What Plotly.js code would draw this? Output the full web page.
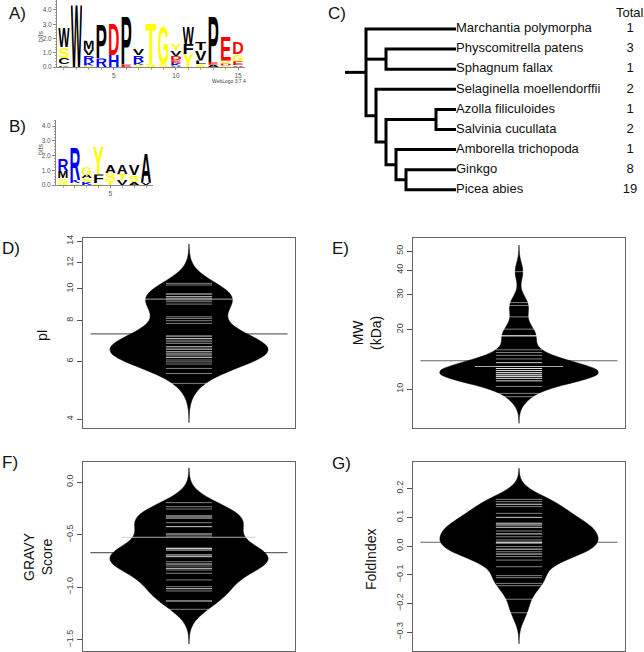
<!DOCTYPE html>
<html>
<head>
<meta charset="utf-8">
<script src="https://cdn.plot.ly/plotly-3.0.1.min.js"></script>
<style>
  html, body { margin: 0; padding: 0; background: #fff; }
  #chart { width: 644px; height: 652px; }
</style>
</head>
<body>
<div id="chart"></div>
<script>
// ---------- data ----------
// Logo A: letters of each position, bottom to top, with heights in bits
const logoALetters = ['KGCSW', 'W', 'SKRVM', 'RP', 'HD', 'EP', 'SKRV', 'ST', 'SG', 'AKEDVY', 'YFW', 'SLVT', 'AEP', 'SDGE', 'AEGD'];
const logoAHeights = [
  [0.06, 0.12, 0.46, 0.75, 1.4],
  [4.5],
  [0.1, 0.25, 0.48, 0.42, 0.6],
  [0.6, 2.45],
  [0.85, 2.25],
  [0.2, 3.5],
  [0.15, 0.2, 0.5, 0.45],
  [0.22, 2.85],
  [0.2, 2.7],
  [0.1, 0.18, 0.2, 0.3, 0.4, 0.45],
  [0.9, 0.72, 1.2],
  [0.2, 0.25, 0.75, 0.55],
  [0.15, 0.2, 3.25],
  [0.1, 0.15, 0.2, 1.8],
  [0.12, 0.28, 0.5, 0.85]
];
// Logo B
const logoBLetters = ['GSMR', 'SKR', 'KSAG', 'SFY', 'TSA', 'VTA', 'ASV', 'VA'];
const logoBHeights = [
  [0.15, 0.3, 0.5, 0.85],
  [0.12, 0.22, 2.25],
  [0.2, 0.25, 0.25, 0.5],
  [0.12, 0.6, 1.85],
  [0.3, 0.5, 0.55],
  [0.35, 0.4, 0.6],
  [0.2, 0.45, 0.7],
  [0.15, 2.1]
];

// Tree C
const taxa = ['Marchantia polymorpha', 'Physcomitrella patens', 'Sphagnum fallax',
  'Selaginella moellendorffii', 'Azolla filiculoides', 'Salvinia cucullata',
  'Amborella trichopoda', 'Ginkgo', 'Picea abies'];
const totals = [1, 3, 1, 2, 1, 2, 1, 8, 19];
const nodeNames = ['root', 'moss', 'vasc', 'fernSeed', 'ferns', 'seed', 'gymno'];
const nodeDepth = [0, 2, 1, 2, 7, 3, 4];
const nodeChildren = [['L0', 'moss', 'vasc'], ['L1', 'L2'], ['L3', 'fernSeed'], ['ferns', 'seed'],
  ['L4', 'L5'], ['L6', 'gymno'], ['L7', 'L8']];
const tipDepth = 9;
const rootStub = 2.1;

// Bean plots D-G
const pIValues = [10.39, 10.27, 9.64, 9.64, 9.46, 9.46, 9.35, 9.24, 9.13, 8.98, 8.21, 8.12, 7.99, 7.84,
  7.17, 7.17, 7.05, 7.05, 6.97, 6.89, 6.81, 6.65, 6.65, 6.54, 6.54, 6.42, 6.42, 6.32, 6.32, 6.24,
  6.17, 6.17, 6.06, 5.98, 5.89, 5.71, 5.51, 5.14];
const pIOverall = 7.28, pIBeanLine = 9.3;

const mwValues = [39.3, 27.4, 26.5, 23.2, 20.1, 18.6, 18.6, 18.6, 15.8, 15.3, 14.8, 14.2, 13.6, 13.6,
  13.0, 13.0, 12.7, 12.7, 12.7, 12.4, 12.4, 12.4, 12.1, 12.1, 12.1, 11.8, 11.8, 11.8, 11.55, 11.55,
  11.55, 11.3, 11.3, 11.0, 11.0, 10.3, 9.5, 9.14];
const mwOverall = 13.9, mwBeanLine = 13.0;

const gravyValues = [-0.196, -0.234, -0.256, -0.323, -0.323, -0.342, -0.342, -0.386, -0.424, -0.424,
  -0.494, -0.494, -0.513, -0.63, -0.63, -0.63, -0.646, -0.646, -0.693, -0.693, -0.709, -0.709,
  -0.757, -0.779, -0.779, -0.798, -0.82, -0.82, -0.836, -0.867, -0.93, -0.994, -1.013, -1.013,
  -1.035, -1.13, -1.13, -1.209];
const gravyOverall = -0.671, gravyBeanLine = -0.525;

const foldValues = [0.162, 0.154, 0.145, 0.145, 0.137, 0.1135, 0.0995, 0.0995, 0.079, 0.079, 0.073,
  0.073, 0.065, 0.065, 0.052, 0.042, 0.042, 0.032, 0.021, 0.013, 0.013, 0.013, 0.009, -0.002,
  -0.011, -0.011, -0.02, -0.028, -0.028, -0.037, -0.049, -0.072, -0.103, -0.11, -0.13, -0.138,
  -0.185, -0.232];
const foldOverall = 0.013;

// ---------- helpers ----------
const W = 644, H = 652;
const px = p => p / W;           // pixel x -> paper
const py = p => 1 - p / H;       // pixel y -> paper
const FONT = 'Liberation Sans, Arial, sans-serif';

const letterColour = {};
'AVLIPWFMC'.split('').forEach(c => letterColour[c] = '#000000');
'KRH'.split('').forEach(c => letterColour[c] = '#0000ff');
'DE'.split('').forEach(c => letterColour[c] = '#ff0000');
'GSTYQN'.split('').forEach(c => letterColour[c] = '#ffff00');
const colourOverride = {'A12T': '#000000'};

function glyphSrc(ch, colour) {
  const svg = '<svg xmlns="http://www.w3.org/2000/svg" width="100" height="100" viewBox="0 0 100 100" preserveAspectRatio="none">' +
    '<text x="0" y="100" font-family="Liberation Sans, Arial, sans-serif" font-weight="bold" font-size="139" ' +
    'textLength="100" lengthAdjust="spacingAndGlyphs" fill="' + colour + '">' + ch + '</text></svg>';
  return 'data:image/svg+xml;charset=utf-8,' + encodeURIComponent(svg);
}

function logoImages(letters, heights, xa, ya, tag) {
  const imgs = [];
  letters.forEach((stack, i) => {
    let base = 0;
    stack.split('').forEach((ch, j) => {
      const h = heights[i][j];
      const colour = colourOverride[tag + (i + 1) + ch] || letterColour[ch];
      imgs.push({
        source: glyphSrc(ch, colour), xref: xa, yref: ya,
        x: i + 1 - 0.46, y: base + h, sizex: 0.92, sizey: h,
        sizing: 'stretch', xanchor: 'left', yanchor: 'top', layer: 'above'
      });
      base += h;
    });
  });
  return imgs;
}

function logoAxes(xd, yd, xr, yr, xticks) {
  const common = {showgrid: false, zeroline: false, showline: true, linecolor: '#888', linewidth: 1,
    ticks: 'outside', ticklen: 3, tickcolor: '#888', tickfont: {family: FONT, size: 6.5, color: '#555'}};
  return [
    Object.assign({}, common, {domain: xd, range: xr, tickvals: xticks, ticklen: 2,
      minor: {dtick: 1, tick0: 0, ticks: 'outside', ticklen: 1.5, tickcolor: '#aaa'}}),
    Object.assign({}, common, {domain: yd, range: yr, tickvals: [0, 1, 2, 3, 4],
      ticktext: ['0.0', '1.0', '2.0', '3.0', '4.0'],
      minor: {dtick: 0.2, tick0: 0, ticks: 'outside', ticklen: 1.5, tickcolor: '#aaa'}})
  ];
}

// ---------- tree ----------
const pos = {};
taxa.forEach((t, i) => pos['L' + i] = {x: tipDepth, y: i});
function place(name) {
  if (pos[name]) return pos[name];
  const k = nodeNames.indexOf(name);
  const ch = nodeChildren[k].map(place);
  pos[name] = {x: nodeDepth[k], y: (ch[0].y + ch[ch.length - 1].y) / 2, ch: ch};
  return pos[name];
}
place('root');
const treeX = [], treeY = [];
nodeNames.forEach(name => {
  const p = pos[name];
  const first = p.ch[0], last = p.ch[p.ch.length - 1];
  treeX.push(first.x, p.x, p.x, last.x, null);
  treeY.push(first.y, first.y, last.y, last.y, null);
  p.ch.slice(1, -1).forEach(c => { treeX.push(p.x, c.x, null); treeY.push(c.y, c.y, null); });
});
treeX.push(-rootStub, 0);
treeY.push(pos.root.y, pos.root.y);

const totalsCol = 26.4;

const traces = [
  {x: treeX, y: treeY, xaxis: 'x3', yaxis: 'y3', type: 'scatter', mode: 'lines',
   line: {color: 'black', width: 3}, hoverinfo: 'skip'},
  {x: taxa.map(() => tipDepth), y: taxa.map((t, i) => i), text: taxa, xaxis: 'x3', yaxis: 'y3',
   type: 'scatter', mode: 'text', textposition: 'middle right',
   textfont: {family: FONT, size: 13, color: '#111'}, hoverinfo: 'skip'},
  {x: totals.map(() => totalsCol), y: totals.map((t, i) => i), text: totals.map(String),
   xaxis: 'x3', yaxis: 'y3', type: 'scatter', mode: 'text', textposition: 'middle center',
   textfont: {family: FONT, size: 13, color: '#111'}, hoverinfo: 'skip'},
  // invisible anchors so the logo axes exist
  {x: [1], y: [0], xaxis: 'x', yaxis: 'y', type: 'scatter', mode: 'markers', marker: {opacity: 0}, hoverinfo: 'skip'},
  {x: [1], y: [0], xaxis: 'x2', yaxis: 'y2', type: 'scatter', mode: 'markers', marker: {opacity: 0}, hoverinfo: 'skip'}
];

// ---------- bean plots ----------
// each bean: main axes (box, ticks, overall line) + overlay axes (bean on top)
const beans = [
  {n: 4, o: 8, vals: pIValues, log: true, bw: 0.04, overall: pIOverall, beanLine: pIBeanLine, lineLen: 63},
  {n: 5, o: 9, vals: mwValues, log: true, bw: 0.045, overall: mwOverall, beanLine: mwBeanLine, lineLen: 63},
  {n: 6, o: 10, vals: gravyValues, log: false, bw: 0.11, overall: gravyOverall, beanLine: gravyBeanLine, lineLen: 95},
  {n: 7, o: 11, vals: foldValues, log: false, bw: 0.036, overall: foldOverall, beanLine: null}
];
beans.forEach(b => {
  const tf = v => b.log ? Math.log10(v) : v;
  const ys = b.vals.map(tf);
  const lo = Math.min(...ys), hi = Math.max(...ys);
  // overall average line, underneath the bean
  traces.push({
    type: 'scatter', mode: 'lines', x: [-0.93, 0.93], y: [tf(b.overall), tf(b.overall)],
    xaxis: 'x' + b.n, yaxis: 'y' + b.n, line: {color: '#666', width: 1.2}, hoverinfo: 'skip'
  });
  traces.push({
    type: 'violin', x0: 0, y: ys, xaxis: 'x' + b.o, yaxis: 'y' + b.o,
    width: 1.49, scalemode: 'width', bandwidth: b.bw, spanmode: 'manual', span: [lo - 3 * b.bw, hi + 3 * b.bw],
    fillcolor: '#000', line: {color: '#000', width: 0.5},
    points: 'all', pointpos: 0, jitter: 0,
    marker: {symbol: 'line-ew', size: 33, color: 'white', line: {color: 'rgba(255,255,255,0.5)', width: 1}},
    box: {visible: false}, meanline: {visible: false}, hoverinfo: 'skip', hoveron: 'points'
  });
  if (b.beanLine !== null) {
    traces.push({
      type: 'scatter', mode: 'markers', x: [0], y: [tf(b.beanLine)], xaxis: 'x' + b.o, yaxis: 'y' + b.o,
      marker: {symbol: 'line-ew', size: b.lineLen, line: {color: 'rgba(200,200,200,0.85)', width: 1}},
      hoverinfo: 'skip'
    });
  }
});

function beanX(l, r, anchor) {
  return {domain: [px(l), px(r)], range: [-1, 1], anchor: anchor, showline: true, mirror: true,
    linecolor: '#666', linewidth: 1, showgrid: false, zeroline: false, ticks: '', showticklabels: false};
}
function beanY(t, b, range, tickvals, ticktext, anchor) {
  const ax = {domain: [py(b), py(t)], range: range, anchor: anchor, tickvals: tickvals, tickangle: -90,
    ticks: 'outside', ticklen: 5, tickcolor: '#555', tickfont: {family: FONT, size: 9, color: '#444'},
    showline: true, mirror: true, linecolor: '#666', linewidth: 1, showgrid: false, zeroline: false};
  if (ticktext) ax.ticktext = ticktext; else ax.tickformat = '.1f';
  return ax;
}
function overlayX(main) { return {overlaying: main, range: [-1, 1], visible: false}; }
function overlayY(main, range) { return {overlaying: main, range: range, visible: false}; }

const [xA, yA] = logoAxes([px(57), px(245)], [py(67), py(0)], [0.44, 15.56], [0, 4.7], [5, 10, 15]);
const [xB, yB] = logoAxes([px(56), px(153)], [py(185), py(120)], [0.41, 8.59], [0, 4.41], [5]);
xA.anchor = 'y'; yA.anchor = 'x'; xB.anchor = 'y2'; yB.anchor = 'x2';

const pITicks = [4, 6, 8, 10, 12, 14];
const mwTicks = [10, 20, 30, 40, 50];
const rD = [0.5746, 1.1553], rE = [0.8024, 1.765], rF = [-1.605, 0.19], rG = [-0.365, 0.292];

function label(text, x, y, size, opts) {
  return Object.assign({text: text, xref: 'paper', yref: 'paper', x: px(x), y: py(y), showarrow: false,
    xanchor: 'left', yanchor: 'middle', font: {family: FONT, size: size, color: '#111'}}, opts || {});
}

const annotations = [
  label('A)', 7, 14, 17), label('B)', 7, 127, 17), label('C)', 326, 14, 17),
  label('D)', 0, 248, 17), label('E)', 330, 248, 17), label('F)', 0, 462, 17), label('G)', 330, 463, 17),
  label('Total', 630, 12, 13, {xanchor: 'center'}),
  label('bits', 40, 37, 7, {xanchor: 'center', textangle: -90, font: {family: FONT, size: 7, color: '#555'}}),
  label('bits', 40, 150, 7, {xanchor: 'center', textangle: -90, font: {family: FONT, size: 7, color: '#555'}}),
  label('WebLogo 3.7.4', 248, 81, 5, {xanchor: 'right', font: {family: FONT, size: 5, color: '#444'}}),
  label('pI', 42, 335, 14, {xanchor: 'center', textangle: -90}),
  label('MW<br>(kDa)', 367, 333, 14, {xanchor: 'center', textangle: -90}),
  label('GRAVY<br>Score', 38, 557, 14, {xanchor: 'center', textangle: -90}),
  label('FoldIndex', 371, 560, 14, {xanchor: 'center', textangle: -90})
];

const layout = {
  width: W, height: H, margin: {l: 0, r: 0, t: 0, b: 0},
  paper_bgcolor: 'white', plot_bgcolor: 'rgba(0,0,0,0)', showlegend: false,
  font: {family: FONT},
  xaxis: xA, yaxis: yA, xaxis2: xB, yaxis2: yB,
  xaxis3: {domain: [px(330), px(644)], range: [-3.6, 27.8], anchor: 'y3', visible: false},
  yaxis3: {domain: [py(200), py(0)], range: [8.507, -1.443], anchor: 'x3', visible: false},
  xaxis4: beanX(83, 295, 'y4'),
  yaxis4: beanY(238, 428, rD, pITicks.map(Math.log10), pITicks.map(String), 'x4'),
  xaxis5: beanX(413, 625, 'y5'),
  yaxis5: beanY(238, 428, rE, mwTicks.map(Math.log10), mwTicks.map(String), 'x5'),
  xaxis6: beanX(83, 295, 'y6'),
  yaxis6: beanY(462, 651, rF, [-1.5, -1, -0.5, 0], null, 'x6'),
  xaxis7: beanX(413, 625, 'y7'),
  yaxis7: beanY(462, 651, rG, [-0.3, -0.2, -0.1, 0, 0.1, 0.2], null, 'x7'),
  xaxis8: overlayX('x4'), yaxis8: overlayY('y4', rD),
  xaxis9: overlayX('x5'), yaxis9: overlayY('y5', rE),
  xaxis10: overlayX('x6'), yaxis10: overlayY('y6', rF),
  xaxis11: overlayX('x7'), yaxis11: overlayY('y7', rG),
  images: logoImages(logoALetters, logoAHeights, 'x', 'y', 'A')
    .concat(logoImages(logoBLetters, logoBHeights, 'x2', 'y2', 'B')),
  annotations: annotations
};

Plotly.newPlot('chart', traces, layout, {staticPlot: true});
</script>
</body>
</html>
